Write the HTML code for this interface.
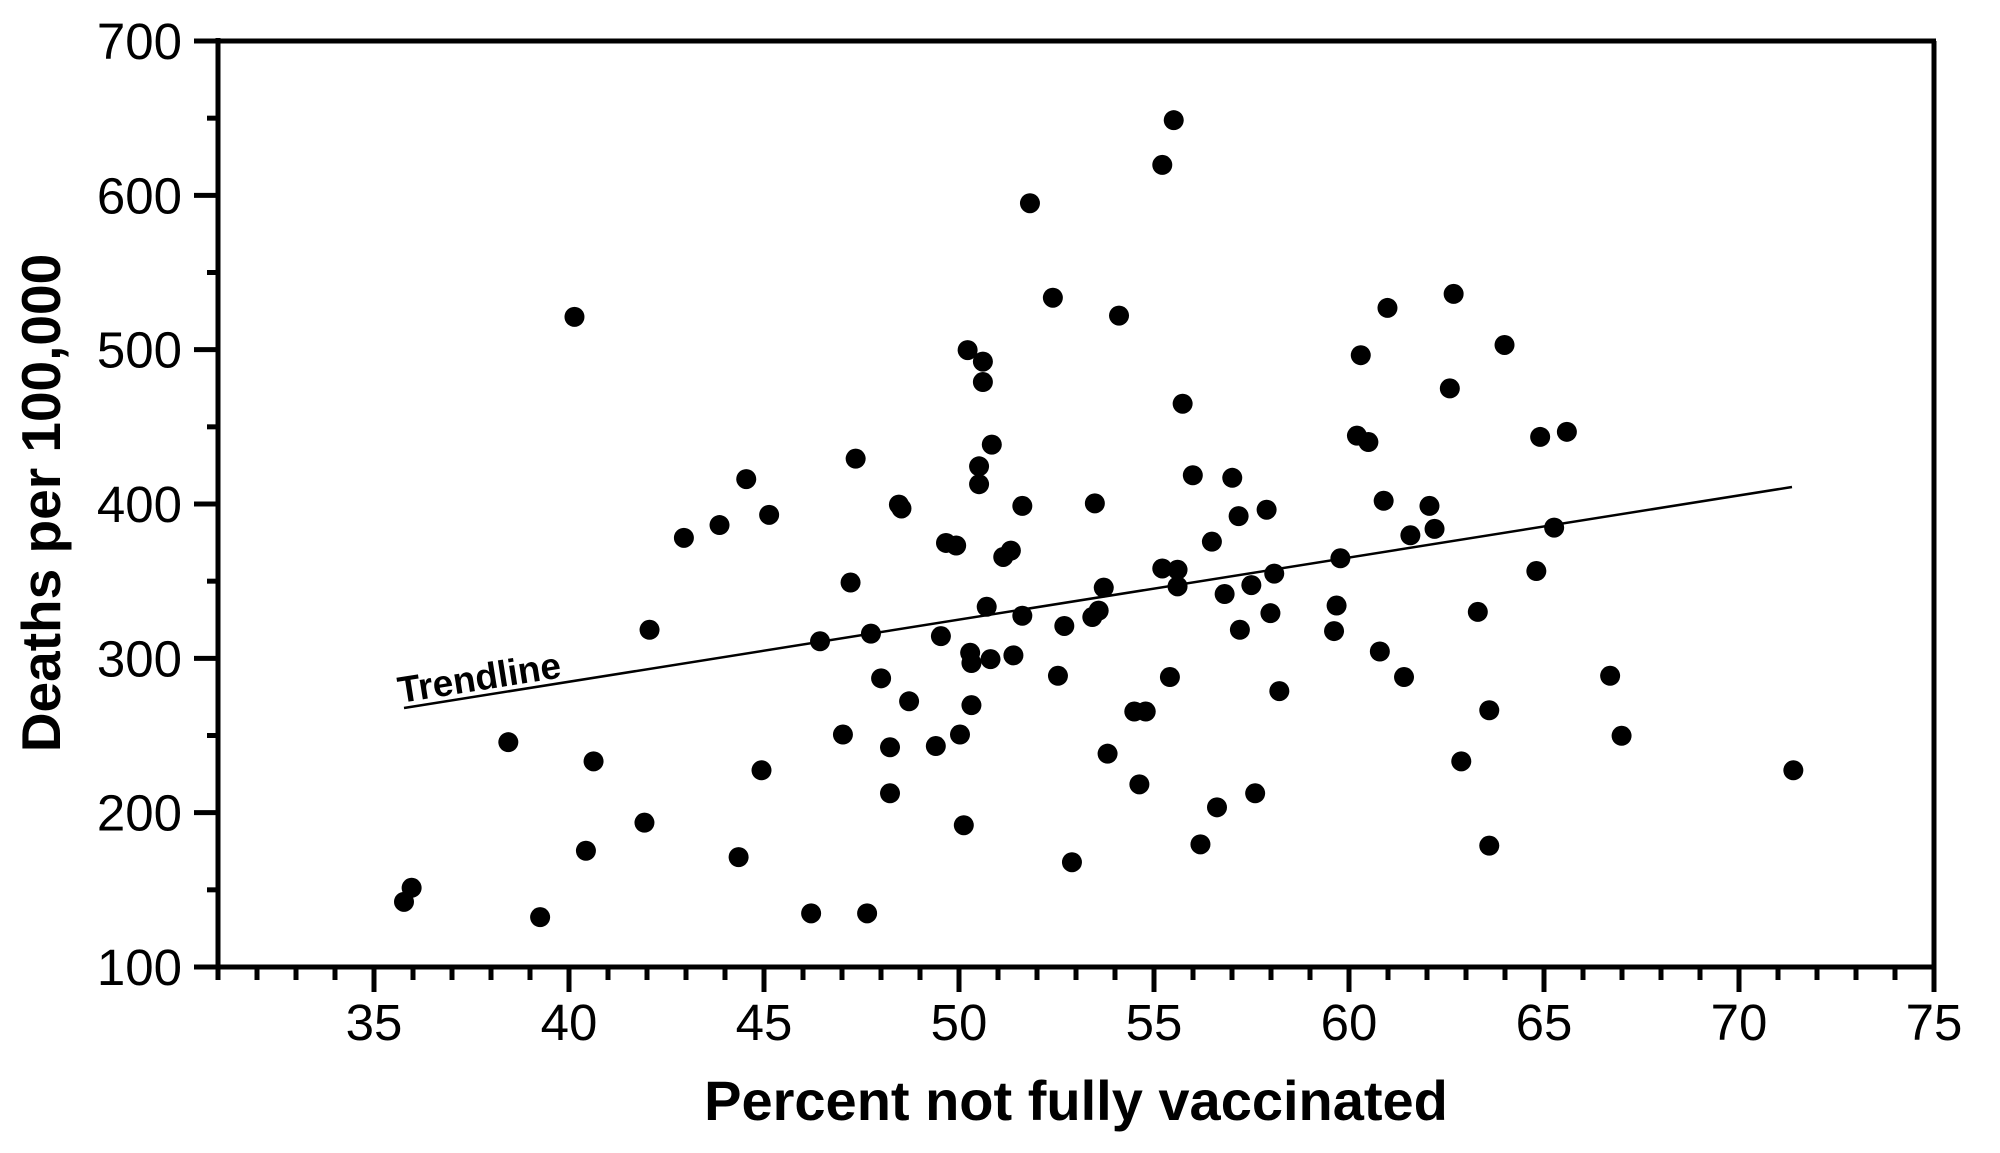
<!DOCTYPE html>
<html><head><meta charset="utf-8"><style>
html,body{margin:0;padding:0;background:#fff;}
svg{display:block;font-family:"Liberation Sans",Arial,sans-serif;}
</style></head><body>
<svg id="s" width="2000" height="1153" viewBox="0 0 2000 1153" xmlns="http://www.w3.org/2000/svg">
<g stroke="#000" stroke-width="5" fill="none" id="ax">
<line x1="194" y1="41" x2="1936" y2="41"/>
<line x1="1934" y1="41" x2="1934" y2="992"/>
<line x1="218" y1="38" x2="218" y2="969"/>
<line x1="194" y1="967" x2="1936" y2="967"/>
</g>
<line x1="404" y1="708" x2="1792" y2="487" stroke="#000" stroke-width="2.5"/>
<text x="0" y="0" transform="translate(400,703) rotate(-9)" font-size="37" font-weight="bold">Trendline</text>
<g font-size="51" text-anchor="end" id="yl"></g>
<g font-size="51" text-anchor="middle" id="xl"></g>
<text transform="translate(60,503) rotate(-90)" text-anchor="middle" font-size="55" font-weight="bold">Deaths per 100,000</text>
<text x="1076" y="1120" text-anchor="middle" font-size="56" font-weight="bold">Percent not fully vaccinated</text>
<g id="dots" fill="#000"></g>
</svg>
<script>
var ns="http://www.w3.org/2000/svg";
function el(t,a,p){var e=document.createElementNS(ns,t);for(var k in a)e.setAttribute(k,a[k]);p.appendChild(e);return e;}
var ax=document.getElementById('ax'),yl=document.getElementById('yl'),xl=document.getElementById('xl');
function Y(v){return 967-(v-100)*926/600;}
function X(v){return 218+(v-31)*1716/44;}
for(var v=100;v<=700;v+=50){var y=Y(v);var maj=v%100==0;el('line',{x1:maj?194:207,y1:y,x2:218,y2:y},ax);
 if(maj){var t=el('text',{x:182,y:y+18},yl);t.textContent=v;}}
for(var v=31;v<=75;v++){var x=X(v);var maj=v%5==0;el('line',{x1:x,y1:967,x2:x,y2:maj?992:980},ax);
 if(maj){var t=el('text',{x:x,y:1040},xl);t.textContent=v;}}
var P=[[315,707],[321,696],[397,582],[422,719],[449,249],[458,667],[464,597],[504,645],[508,494],[535,422],[563,412],[578,672],[584,376],[596,604],[602,404],[635,716],[642,503],[660,576],[666,457],[670,360],[679,716],[682,497],[690,532],[697,586],[697,622],[704,396],[706,399],[712,550],[733,585],[737,499],[741,426],[749,428],[752,576],[755,647],[758,275],[760,512],[761,520],[761,553],[767,366],[767,380],[770,284],[770,300],[773,476],[776,517],[777,349],[786,437],[792,432],[794,514],[801,397],[801,483],[807,160],[825,234],[829,530],[834,491],[840,676],[856,484],[858,395],[861,479],[865,461],[868,591],[877,248],[889,558],[893,615],[898,558],[911,130],[911,446],[917,531],[920,95],[923,447],[923,460],[927,317],[935,373],[941,662],[950,425],[954,633],[960,466],[966,375],[971,405],[972,494],[981,459],[984,622],[993,400],[996,481],[999,450],[1003,542],[1046,495],[1048,475],[1051,438],[1064,342],[1067,279],[1073,347],[1082,511],[1085,393],[1088,242],[1101,531],[1106,420],[1121,397],[1125,415],[1137,305],[1140,231],[1146,597],[1159,480],[1168,557],[1168,663],[1180,271],[1205,448],[1208,343],[1219,414],[1229,339],[1263,530],[1272,577],[1407,604]];
var d=document.getElementById('dots');
P.forEach(function(p){el('circle',{cx:376+(p[0]-293)*1.2723,cy:41+(p[1]-33)*1.2772,r:10},d);});
</script>
</body></html>
